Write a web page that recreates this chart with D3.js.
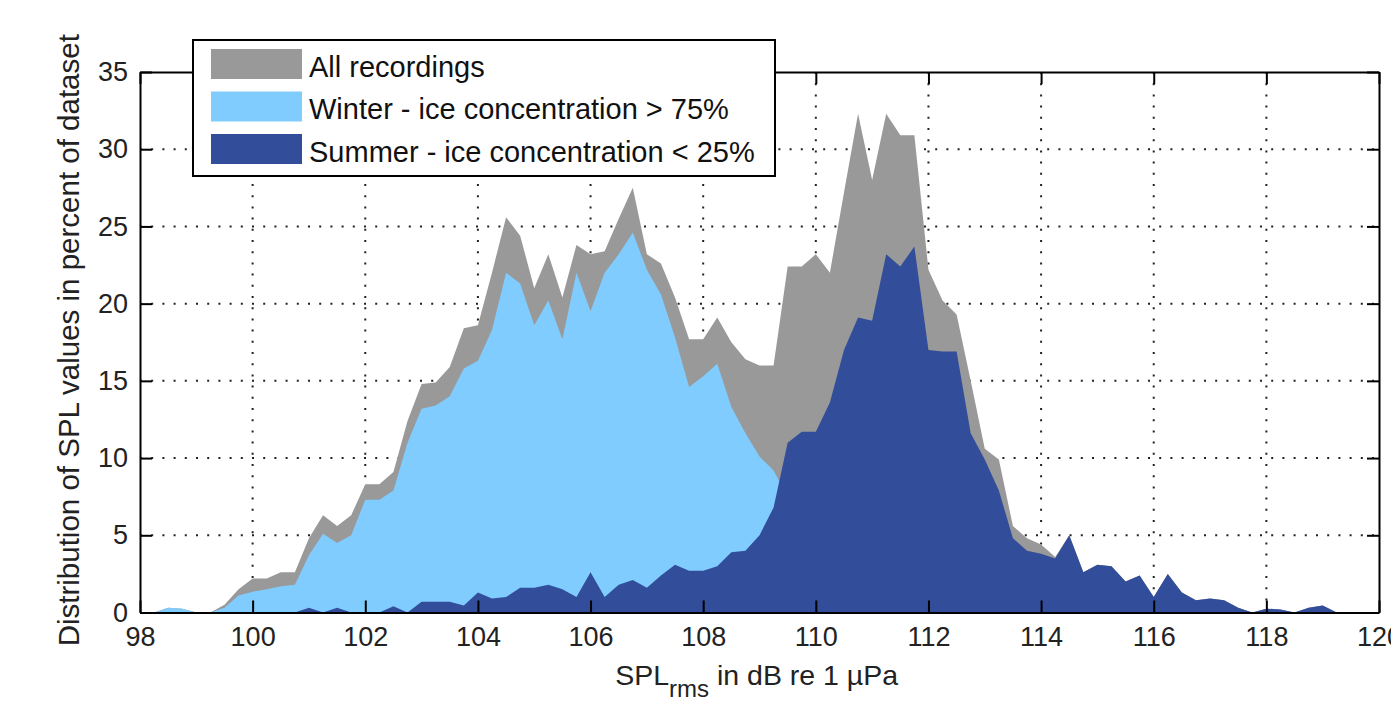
<!DOCTYPE html>
<html>
<head>
<meta charset="utf-8">
<script src="https://cdn.jsdelivr.net/npm/d3@7"></script>
<style>
  body { margin: 0; background: #fff; }
  svg { display: block; font-family: "Liberation Sans", Arial, sans-serif; }
</style>
</head>
<body>
<div class="chart"></div>
<script>
// bin centres in dB re 1 uPa (0.25 dB bins)
const spl = [
  98, 98.25, 98.5, 98.75,
  99, 99.25, 99.5, 99.75,
  100, 100.25, 100.5, 100.75,
  101, 101.25, 101.5, 101.75,
  102, 102.25, 102.5, 102.75,
  103, 103.25, 103.5, 103.75,
  104, 104.25, 104.5, 104.75,
  105, 105.25, 105.5, 105.75,
  106, 106.25, 106.5, 106.75,
  107, 107.25, 107.5, 107.75,
  108, 108.25, 108.5, 108.75,
  109, 109.25, 109.5, 109.75,
  110, 110.25, 110.5, 110.75,
  111, 111.25, 111.5, 111.75,
  112, 112.25, 112.5, 112.75,
  113, 113.25, 113.5, 113.75,
  114, 114.25, 114.5, 114.75,
  115, 115.25, 115.5, 115.75,
  116, 116.25, 116.5, 116.75,
  117, 117.25, 117.5, 117.75,
  118, 118.25, 118.5, 118.75,
  119, 119.25, 119.5, 119.75
];

// percent of dataset
const allRecordings = [
  0, 0, 0.3, 0.25,
  0, 0, 0.5, 1.5,
  2.2, 2.2, 2.6, 2.6,
  4.8, 6.3, 5.6, 6.3,
  8.3, 8.3, 9.1, 12.4,
  14.8, 14.9, 15.9, 18.4,
  18.6, 22.0, 25.6, 24.4,
  21.0, 23.2, 20.4, 23.8,
  23.2, 23.4, 25.5, 27.5,
  23.2, 22.6, 20.4, 17.7,
  17.7, 19.1, 17.5, 16.4,
  16.0, 16.0, 22.4, 22.4,
  23.2, 22.0, 27.2, 32.3,
  28.0, 32.3, 30.9, 30.9,
  22.2, 20.2, 19.3, 15.0,
  10.6, 9.9, 5.6, 4.8,
  4.4, 3.6, 5.0, 2.6,
  3.1, 3.0, 2.0, 2.4,
  1.0, 2.5, 1.3, 0.8,
  0.9, 0.8, 0.3, 0,
  0.25, 0.2, 0, 0.3,
  0.45, 0, 0, 0
];

const winter = [
  0, 0, 0.3, 0.25,
  0, 0, 0.3, 1.1,
  1.35, 1.5, 1.7, 1.8,
  3.7, 5.1, 4.5, 5.0,
  7.3, 7.3, 7.9, 11.0,
  13.2, 13.4, 14.0, 15.8,
  16.3, 18.3, 22.0, 21.3,
  18.6, 20.2, 17.7, 22.0,
  19.5, 22.0, 23.2, 24.6,
  22.2, 20.6, 17.8, 14.6,
  15.3, 16.1, 13.3, 11.6,
  10.1, 9.2, 7.5, 6.0,
  4.8, 4.0, 3.2, 2.6,
  2.0, 1.6, 1.2, 0.9,
  0.7, 0.5, 0.4, 0.3,
  0.2, 0.1, 0, 0,
  0, 0, 0, 0,
  0, 0, 0, 0,
  0, 0, 0, 0,
  0, 0, 0, 0,
  0, 0, 0, 0,
  0, 0, 0, 0
];

const summer = [
  0, 0, 0, 0,
  0, 0, 0, 0,
  0, 0, 0, 0,
  0.3, 0, 0.3, 0,
  0, 0, 0.4, 0,
  0.7, 0.7, 0.7, 0.45,
  1.3, 0.9, 1.0, 1.6,
  1.6, 1.8, 1.5, 1.0,
  2.6, 1.0, 1.8, 2.1,
  1.6, 2.4, 3.1, 2.7,
  2.7, 3.0, 3.9, 4.0,
  5.0, 6.8, 11.0, 11.7,
  11.7, 13.6, 17.0, 19.1,
  18.9, 23.2, 22.4, 23.7,
  17.0, 16.9, 16.9, 11.6,
  9.9, 7.9, 4.8, 4.0,
  3.8, 3.5, 5.0, 2.6,
  3.1, 3.0, 2.0, 2.4,
  1.0, 2.5, 1.3, 0.8,
  0.9, 0.8, 0.3, 0,
  0.25, 0.2, 0, 0.3,
  0.45, 0, 0, 0
];

const xTicks = [98, 100, 102, 104, 106, 108, 110, 112, 114, 116, 118, 120];
const yTicks = [0, 5, 10, 15, 20, 25, 30, 35];
const seriesNames = ["All recordings", "Winter - ice concentration > 75%", "Summer - ice concentration < 25%"];
const seriesColors = ["#999999", "#80ccff", "#324d9a"];

const W = 1391, H = 701;
const margin = { top: 72, right: 12, bottom: 88.5, left: 140 };
const width = W - margin.left - margin.right;
const height = H - margin.top - margin.bottom;

const x = d3.scaleLinear().domain([98, 120]).range([0, width]);
const y = d3.scaleLinear().domain([0, 35]).range([height, 0]);

const svg = d3.select(".chart").append("svg")
    .attr("width", W)
    .attr("height", H);

svg.append("rect").attr("width", W).attr("height", H).attr("fill", "#fff");

const g = svg.append("g").attr("transform", `translate(${margin.left},${margin.top})`);

// dotted grid
g.append("g").selectAll("line")
    .data(xTicks.slice(1, -1))
    .enter().append("line")
    .attr("x1", d => x(d)).attr("x2", d => x(d))
    .attr("y1", 0).attr("y2", height)
    .attr("stroke", "#222").attr("stroke-width", 2)
    .attr("stroke-dasharray", "2,9.2");

g.append("g").selectAll("line")
    .data(yTicks.slice(1, -1))
    .enter().append("line")
    .attr("y1", d => y(d)).attr("y2", d => y(d))
    .attr("x1", 0).attr("x2", width)
    .attr("stroke", "#222").attr("stroke-width", 2)
    .attr("stroke-dasharray", "2,9.2");

// areas, overlaid
const series = [allRecordings, winter, summer];
const area = d3.area()
    .x(d => x(d[0]))
    .y0(y(0))
    .y1(d => y(d[1]));

g.append("g").selectAll("path")
    .data(series)
    .enter().append("path")
    .attr("d", vals => area(spl.map((s, i) => [s, vals[i]])))
    .attr("fill", (d, i) => seriesColors[i])
    .attr("stroke", "none");

// axes (ticks inward, box)
const xAxis = d3.axisBottom(x).tickValues(xTicks).tickSizeInner(-12).tickSizeOuter(0).tickPadding(14);
const yAxis = d3.axisLeft(y).tickValues(yTicks).tickSizeInner(-12).tickSizeOuter(0).tickPadding(12);
const xTop = d3.axisTop(x).tickValues(xTicks).tickSizeInner(-12).tickSizeOuter(0).tickFormat("");
const yRight = d3.axisRight(y).tickValues(yTicks).tickSizeInner(-12).tickSizeOuter(0).tickFormat("");

g.append("g").attr("class", "x-axis").attr("transform", `translate(0,${height})`).call(xAxis);
g.append("g").attr("class", "y-axis").call(yAxis);
g.append("g").attr("class", "x-top").call(xTop);
g.append("g").attr("class", "y-right").attr("transform", `translate(${width},0)`).call(yRight);

g.selectAll(".domain, .tick line").attr("stroke", "#000").attr("stroke-width", 2);
g.selectAll(".tick text").attr("fill", "#222").style("font-size", "27px").style("font-family", "Liberation Sans, Arial, sans-serif");

// axis labels
const xLabel = svg.append("text")
    .attr("x", margin.left + x(108.95))
    .attr("y", 685)
    .attr("text-anchor", "middle")
    .attr("fill", "#222")
    .style("font-size", "28.5px");
xLabel.append("tspan").text("SPL");
xLabel.append("tspan").attr("dy", 12).style("font-size", "24px").text("rms");
xLabel.append("tspan").attr("dy", -12).text(" in dB re 1 \u00B5Pa");

svg.append("text")
    .attr("transform", `translate(79,${margin.top + height / 2 - 2}) rotate(-90)`)
    .attr("text-anchor", "middle")
    .attr("fill", "#222")
    .style("font-size", "29.5px")
    .text("Distribution of SPL values in percent of dataset");

// legend
const legend = svg.append("g").attr("transform", "translate(193,40)");
legend.append("rect")
    .attr("width", 582).attr("height", 136)
    .attr("fill", "#fff").attr("stroke", "#000").attr("stroke-width", 2);

const rows = legend.selectAll(".row")
    .data(seriesNames)
    .enter().append("g")
    .attr("class", "row")
    .attr("transform", (d, i) => `translate(0,${9 + i * 42.5})`);

rows.append("rect")
    .attr("x", 18).attr("width", 91).attr("height", 30)
    .attr("fill", (d, i) => seriesColors[i]);

rows.append("text")
    .attr("x", 116).attr("y", 27.5)
    .attr("fill", "#111")
    .style("font-size", "29px")
    .text(d => d);
</script>
</body>
</html>
